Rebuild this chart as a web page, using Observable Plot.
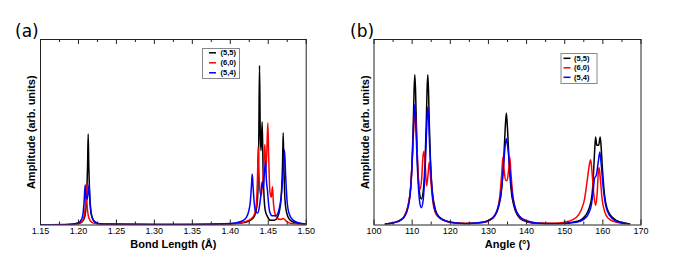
<!DOCTYPE html>
<html><head><meta charset="utf-8">
<script src="https://cdn.jsdelivr.net/npm/d3@7"></script>
<script src="https://cdn.jsdelivr.net/npm/@observablehq/plot@0.6"></script>
<style>
body{margin:0;background:#fff;}
#wrap{position:relative;width:678px;height:265px;background:#fff;}
.panel{position:absolute;top:0;}
#overlay{position:absolute;left:0;top:0;pointer-events:none;}
</style>
</head><body>
<div id="wrap"><div id="pa" class="panel" style="left:0"></div><div id="pb" class="panel" style="left:339px"></div></div>
<script>
// ---------- DATA ----------
const seriesNames = ["(5,5)", "(6,0)", "(5,4)"];
const seriesColors = ["#000000", "#ff0000", "#0000ff"];

const bondTicks = [1.15, 1.20, 1.25, 1.30, 1.35, 1.40, 1.45, 1.50];
const bondMinor = [1.175, 1.225, 1.275, 1.325, 1.375, 1.425, 1.475];
const angleTicks = [100, 110, 120, 130, 140, 150, 160, 170];
const angleMinor = [105, 115, 125, 135, 145, 155, 165];

// panel (a): [bond length (Å), amplitude (% of frame height)]
const bond55 = [[1.15,0],[1.19,0.3],[1.20,0.8],[1.205,1.8],[1.208,4],[1.210,10],[1.211,18],[1.212,32],[1.2128,49],[1.2136,32],[1.2146,18],[1.216,8],[1.218,4],[1.222,1.6],[1.23,0.6],[1.30,0.2],[1.40,0.5],[1.42,1.5],[1.428,3],[1.432,5],[1.435,10],[1.4365,20],[1.4375,45],[1.4385,86],[1.4395,50],[1.4405,40],[1.4420,55.6],[1.4432,30],[1.4445,15],[1.446,8],[1.449,4.5],[1.453,2.5],[1.458,2.5],[1.462,4],[1.465,8],[1.4675,18],[1.4688,32],[1.4697,49.7],[1.4706,32],[1.472,14],[1.474,7],[1.478,3],[1.485,1.2],[1.50,0.3]];
const bond60 = [[1.15,0],[1.19,0.3],[1.20,0.9],[1.205,2],[1.207,4],[1.209,10],[1.2102,22],[1.2112,12],[1.213,5],[1.216,2],[1.22,1],[1.23,0.4],[1.35,0.2],[1.40,0.6],[1.42,1.8],[1.428,3.5],[1.432,6],[1.4345,12],[1.4358,25],[1.4368,42],[1.4378,28],[1.4392,18],[1.441,16],[1.4435,28],[1.4455,43.4],[1.4468,30],[1.4480,38],[1.4495,55],[1.4507,35],[1.4522,18],[1.4540,15],[1.4556,20.6],[1.4568,12],[1.4590,6],[1.4620,3.5],[1.466,3],[1.4697,3.5],[1.474,2],[1.48,0.8],[1.50,0.2]];
const bond54 = [[1.15,0.1],[1.19,0.4],[1.20,1.2],[1.204,3],[1.206,6],[1.2075,13],[1.2088,21.5],[1.2100,15],[1.2114,14],[1.2128,17],[1.2140,21.5],[1.2152,13],[1.217,6],[1.219,3],[1.223,1.3],[1.23,0.6],[1.35,0.3],[1.40,0.8],[1.415,2],[1.421,4],[1.424,7],[1.4265,13],[1.4280,22],[1.4289,27.5],[1.4298,22],[1.4315,12],[1.4335,7],[1.436,6.5],[1.438,9],[1.4400,15],[1.4420,23.3],[1.4435,20],[1.4450,28],[1.4464,34.6],[1.4476,24],[1.4490,18.5],[1.4503,12],[1.452,7],[1.455,5],[1.460,5],[1.464,8],[1.467,15],[1.4695,28],[1.4714,40.4],[1.4730,26],[1.4750,12],[1.4780,5.5],[1.483,2.5],[1.49,1.2],[1.50,0.5]];

// panel (b): [angle (°), amplitude (% of frame height)]
const angle55 = [[103,0.5],[105,1.2],[106,1.8],[107,2.8],[108,5],[109,11],[109.6,20],[110,35],[110.3,55],[110.5,72],[110.7,81],[110.9,72],[111.1,55],[111.4,35],[111.8,20],[112.4,14],[113,20],[113.4,35],[113.7,55],[113.9,72],[114.1,81],[114.3,72],[114.5,55],[114.8,35],[115.2,20],[115.8,11],[116.5,6],[118,3],[120,1.5],[124,0.8],[128,1.3],[130,2.5],[131.7,5],[132.7,10],[133.5,20],[134,35],[134.4,52],[134.7,60.4],[135,52],[135.4,35],[135.9,20],[136.7,10],[137.7,5],[139,2.5],[142,1],[148,0.8],[152,1.5],[154,2.5],[155.4,5],[156.4,9],[157.2,17],[157.6,30],[157.9,42],[158.1,47.5],[158.4,43],[158.9,43],[159.3,47.5],[159.55,42],[159.9,30],[160.4,17],[161.1,9],[162.1,5],[163.5,2.5],[166,1],[167,0.6]];
const angle60 = [[103,0.5],[105,1.2],[107,2.8],[108,5],[109,11],[109.6,20],[110.1,38],[110.5,55],[110.8,61],[111.1,50],[111.5,30],[112.0,19],[112.5,25],[112.8,36],[113.1,39.7],[113.4,33],[113.8,21],[114.2,28],[114.5,34],[114.9,24],[115.4,13],[116,7],[117,4],[118.5,2.3],[121,1.2],[125,0.8],[129,1.5],[131,3.5],[132.3,8],[133,16],[133.5,28],[133.8,36.6],[134.1,30],[134.5,24],[134.9,24],[135.3,30],[135.6,36.6],[135.9,28],[136.4,16],[137.2,8],[138.4,4],[140,2],[143,1],[148,1],[151,2],[153,4],[154.3,8],[155.2,14],[155.9,24],[156.5,33],[156.8,35.2],[157.1,30],[157.6,17],[158.1,10.5],[158.5,17],[158.8,28],[159.0,31],[159.3,26],[159.8,14],[160.5,7],[161.5,3.5],[163,1.8],[166,0.6]];
const angle54 = [[103,0.5],[105,1.1],[107,2.6],[108,4.5],[109,10],[109.6,19],[110,33],[110.3,50],[110.5,60],[110.7,65],[110.9,58],[111.2,40],[111.6,22],[112.0,12],[112.4,9.3],[112.8,12],[113.2,22],[113.6,40],[113.9,57],[114.1,63.6],[114.3,58],[114.6,42],[115,25],[115.5,13],[116.2,7],[117.5,3.5],[120,1.5],[124,0.7],[128,1.3],[130,2.3],[131.6,5],[132.6,10],[133.4,19],[134,33],[134.4,43],[134.7,46.5],[135,43],[135.5,33],[136.1,19],[136.9,10],[138,5],[140,2.3],[143,1],[149,0.7],[153,1.5],[155,3],[156.2,6],[157,11],[157.5,19],[157.8,25],[158.3,27],[158.8,34],[159.2,39.3],[159.55,33],[160.1,20],[160.8,10],[161.8,5],[163.5,2],[166,0.8],[167,0.5]];

// ---------- CHART ----------
const H = 265, MT = 39, MB = 40.5;
const pxPerUnit = (H - MT - MB) / 100;
const majorLen = 5 / pxPerUnit, minorLen = 3 / pxPerUnit;

function panel({series, domain, ticks, minor, fmt, mL, mR, xlabel}) {
  return Plot.plot({
    width: 339, height: H,
    marginLeft: mL, marginRight: mR, marginTop: MT, marginBottom: MB,
    x: {domain}, y: {domain: [0, 100], axis: null},
    style: {fontFamily: "'Liberation Sans', Arial, sans-serif", fontSize: "9px", background: "white", color: "black"},
    marks: [
      ...series.map((s, i) => Plot.line(s, {x: d => d[0], y: d => d[1], stroke: seriesColors[i], strokeWidth: 1.5, curve: "monotone-x", clip: true})),
      Plot.ruleX(ticks, {x: d => d, y1: 0, y2: majorLen, stroke: "#222"}),
      Plot.ruleX(minor, {x: d => d, y1: 0, y2: minorLen, stroke: "#222"}),
      Plot.ruleX(ticks, {x: d => d, y1: 100, y2: 100 - majorLen, stroke: "#222"}),
      Plot.ruleX(minor, {x: d => d, y1: 100, y2: 100 - minorLen, stroke: "#222"}),
      Plot.frame({stroke: "#222", strokeWidth: 1}),
      Plot.axisX({ticks, tickSize: 0, tickPadding: 3, tickFormat: fmt, label: null, fill: "black"}),
      Plot.text([xlabel], {frameAnchor: "bottom", lineAnchor: "middle", dy: 19.5, text: d => d, fontWeight: "bold", fontSize: 11}),
      Plot.text(["Amplitude (arb. units)"], {frameAnchor: "left", textAnchor: "middle", lineAnchor: "middle", dx: -9, rotate: -90, text: d => d, fontWeight: "bold", fontSize: 11})
    ]
  });
}

document.getElementById("pa").append(panel({
  series: [bond55, bond60, bond54], domain: [1.15, 1.50], ticks: bondTicks, minor: bondMinor,
  fmt: d3.format(".2f"), mL: 40, mR: 33.3, xlabel: "Bond Length (Å)"
}));
document.getElementById("pb").append(panel({
  series: [angle55, angle60, angle54], domain: [100, 170], ticks: angleTicks, minor: angleMinor,
  fmt: d3.format("d"), mL: 34.5, mR: 37.5, xlabel: "Angle (°)"
}));

// overlay: panel letters and legends
const svg = d3.select("#wrap").append("svg").attr("id", "overlay").attr("width", 678).attr("height", 265);
svg.append("text").attr("x", 15).attr("y", 37).text("(a)").attr("font-family", "'DejaVu Sans', sans-serif").attr("font-size", 17);
svg.append("text").attr("x", 350).attr("y", 37).text("(b)").attr("font-family", "'DejaVu Sans', sans-serif").attr("font-size", 17);

function legend(x, y, w, h, lineX0, lineX1, textX, rows) {
  const g = svg.append("g");
  g.append("rect").attr("x", x).attr("y", y).attr("width", w).attr("height", h).attr("fill", "white").attr("stroke", "#888").attr("stroke-width", 1);
  seriesNames.forEach((name, i) => {
    g.append("line").attr("x1", lineX0).attr("x2", lineX1).attr("y1", rows[i]).attr("y2", rows[i]).attr("stroke", seriesColors[i]).attr("stroke-width", 1.5);
    g.append("text").attr("x", textX).attr("y", rows[i]).attr("dy", "0.35em").text(name)
      .attr("font-family", "'Liberation Sans', Arial, sans-serif").attr("font-size", 7.5).attr("font-weight", "bold");
  });
}
legend(202.5, 48.5, 37, 30, 209, 216, 220.5, [52.8, 62.8, 72.8]);
legend(561, 53.5, 36, 30, 563.5, 570.5, 574, [58.3, 67.8, 77.3]);
</script>
</body></html>
